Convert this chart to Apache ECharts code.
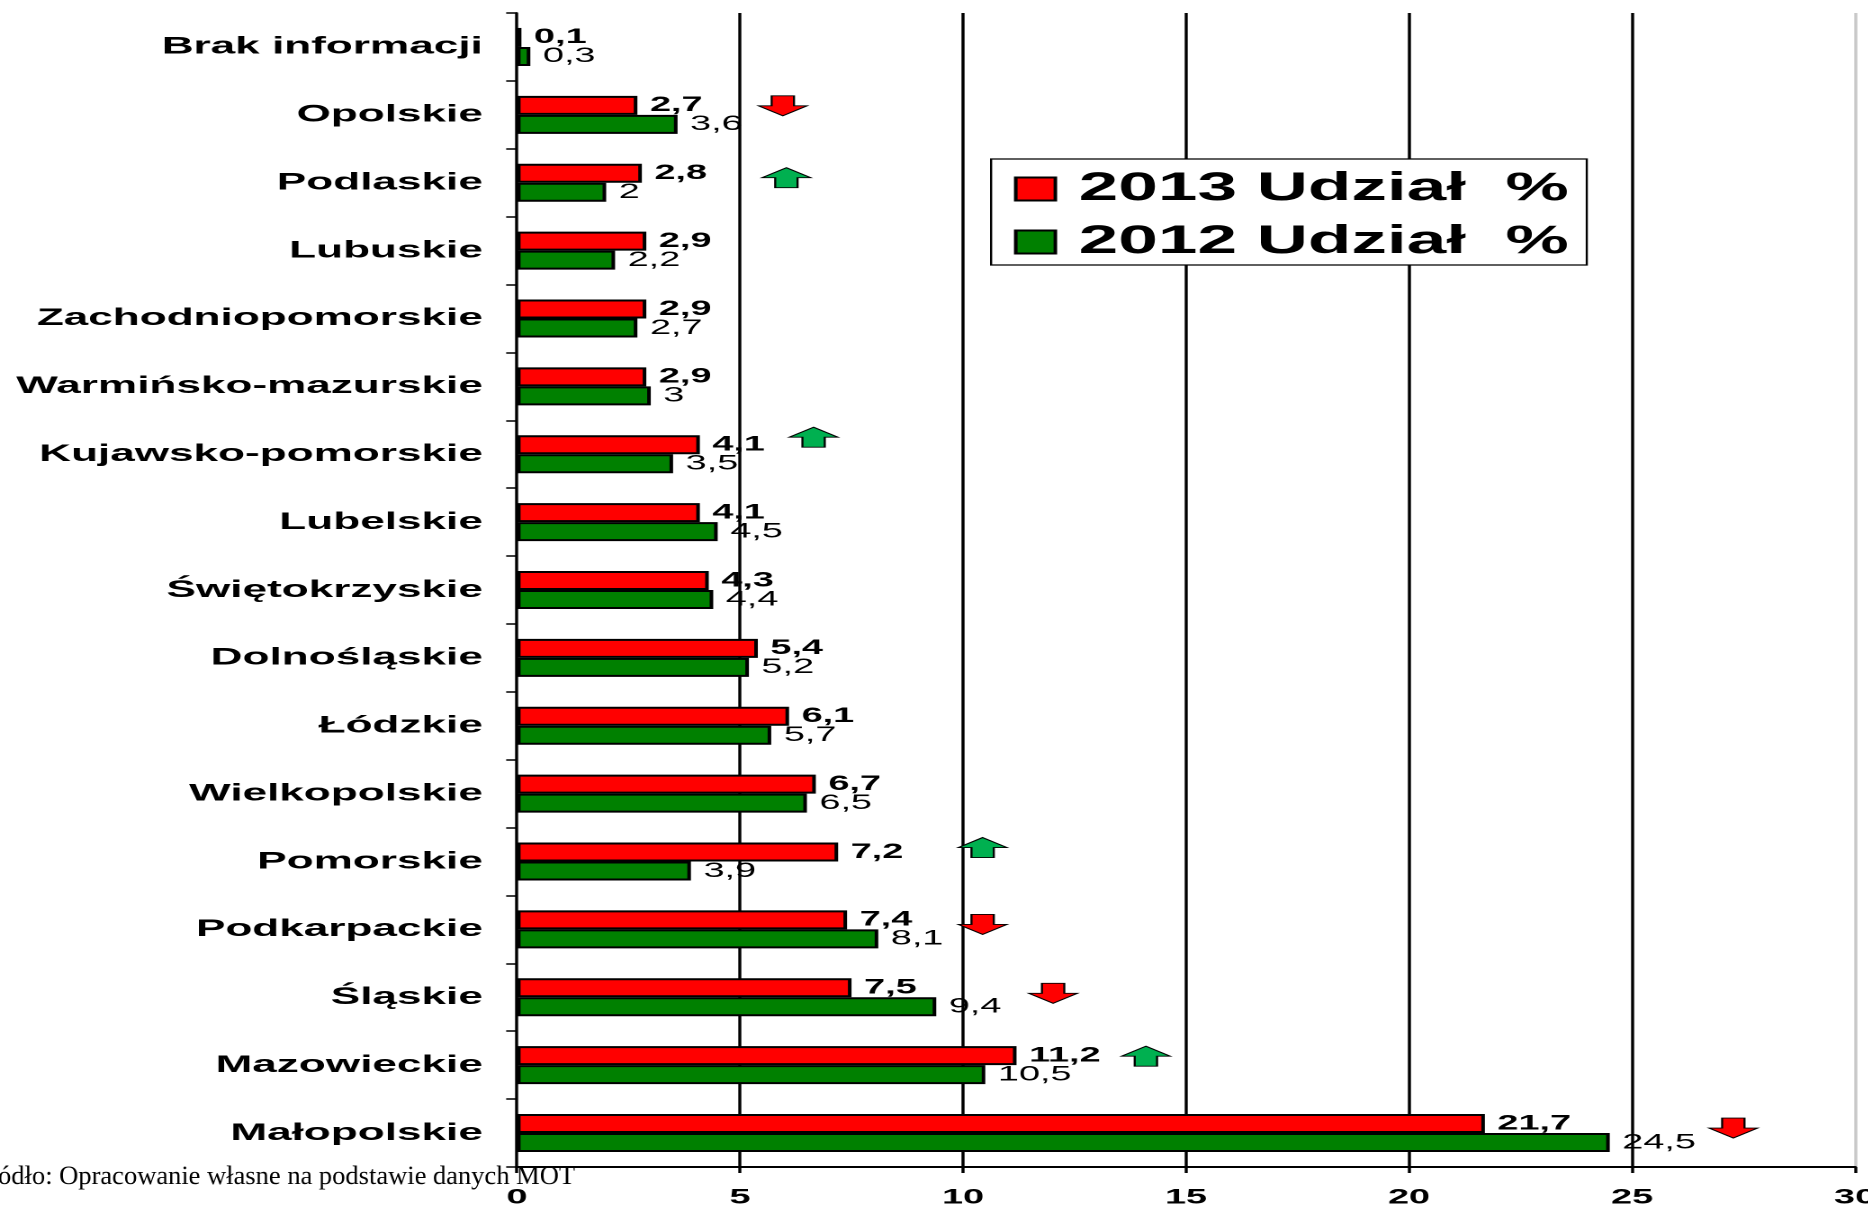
<!DOCTYPE html>
<html>
<head>
<meta charset="utf-8">
<script src="https://cdn.jsdelivr.net/npm/echarts@6/dist/echarts.min.js"></script>
<style>
html,body{margin:0;padding:0;background:#fff;overflow:hidden;width:1868px;height:1210px;}
#chart{width:1038px;height:1210px;transform:scaleX(1.8);transform-origin:0 0;}
</style>
</head>
<body>
<div id="chart"></div>
<script>
// ---- data (categories listed bottom -> top) ----
const categories = ['Małopolskie','Mazowieckie','Śląskie','Podkarpackie','Pomorskie','Wielkopolskie','Łódzkie','Dolnośląskie','Świętokrzyskie','Lubelskie','Kujawsko-pomorskie','Warmińsko-mazurskie','Zachodniopomorskie','Lubuskie','Podlaskie','Opolskie','Brak informacji'];
const share2013 = [21.7,11.2,7.5,7.4,7.2,6.7,6.1,5.4,4.3,4.1,4.1,2.9,2.9,2.9,2.8,2.7,0.1];
const share2012 = [24.5,10.5,9.4,8.1,3.9,6.5,5.7,5.2,4.4,4.5,3.5,3,2.7,2.2,2,3.6,0.3];
const seriesNames = ['2013 Udział  %','2012 Udział  %'];
const xMin = 0, xMax = 30, xStep = 5;
// change arrows (annotations)
const arrowCats = ['Opolskie','Podlaskie','Kujawsko-pomorskie','Pomorskie','Podkarpackie','Śląskie','Mazowieckie','Małopolskie'];
const arrowX    = [5.96, 6.04, 6.65, 10.44, 10.44, 12.02, 14.10, 27.27];
const arrowDir  = ['down','up','up','up','down','down','up','down'];
const footnote = 'Źródło: Opracowanie własne na podstawie danych MOT';

// ---- styling ----
const S = 1.8; // horizontal stretch of the original picture
const arrowDy = [-9,-5,-17,-14,-5,-4,-9,-5];
const UP = 'path://M50,0 L100,50 L73,50 L73,100 L27,100 L27,50 L0,50 Z';
const DOWN = 'path://M27,0 L73,0 L73,50 L100,50 L50,100 L0,50 L27,50 Z';
const FONT = '"Liberation Sans", Arial, sans-serif';
const fmt = p => String(p.value).replace('.', ',');

const chart = echarts.init(document.getElementById('chart'), null, {renderer:'canvas', devicePixelRatio: 2});
chart.setOption({
  animation: false,
  backgroundColor: '#fff',
  textStyle: {fontFamily: FONT},
  grid: {left: 287.2, right: 7.4, top: 13, bottom: 43, containLabel: false, outerBoundsMode: 'none'},
  legend: {
    orient: 'vertical', left: 550.6, top: 159,
    data: seriesNames,
    icon: 'rect', itemWidth: 22, itemHeight: 23, itemGap: 13,
    padding: [10, 10, 3, 12.7],
    borderColor: '#000', borderWidth: 1.2, backgroundColor: '#fff',
    textStyle: {fontSize: 39.5, fontWeight: 'bold', color: '#000', fontFamily: FONT, padding: [0,0,0,8]},
    selectedMode: false
  },
  xAxis: {
    type: 'value', min: xMin, max: xMax, interval: xStep,
    axisLine: {show: true, lineStyle: {color: '#000', width: 2}},
    axisTick: {show: true, length: 6, lineStyle: {color: '#000', width: 1.7}},
    axisLabel: {fontSize: 21, fontWeight: 'bold', color: '#000', margin: 20, fontFamily: FONT},
    splitLine: {show: true, showMinLine: false, lineStyle: {color: ['#000','#000','#000','#000','#000','#c8c8c8'], width: 1.7}}
  },
  yAxis: {
    type: 'category', data: categories,
    axisLine: {show: true, lineStyle: {color: '#000', width: 1.7}},
    axisTick: {show: true, length: 6, lineStyle: {color: '#000', width: 1.5}},
    axisLabel: {fontSize: 24.5, fontWeight: 'bold', color: '#000', margin: 19, fontFamily: FONT},
    splitLine: {show: false}
  },
  series: [
    {
      name: seriesNames[0], type: 'bar', data: share2013,
      barWidth: 19, barGap: '0%',
      itemStyle: {color: '#ff0000', borderColor: '#000', borderWidth: 2},
      label: {show: true, position: 'right', distance: 7, formatter: fmt,
              fontSize: 21, fontWeight: 'bold', color: '#000', fontFamily: FONT}
    },
    {
      name: seriesNames[1], type: 'bar', data: share2012,
      barWidth: 19, barGap: '0%',
      itemStyle: {color: '#008000', borderColor: '#000', borderWidth: 2},
      label: {show: true, position: 'right', distance: 7, formatter: fmt,
              fontSize: 21, fontWeight: 'normal', color: '#000', fontFamily: FONT}
    },
    {
      type: 'scatter', silent: true, z: 5,
      data: arrowCats.map((c, i) => ({
        value: [arrowX[i], c],
        symbol: arrowDir[i] === 'up' ? UP : DOWN,
        symbolSize: [27, 20],
        symbolOffset: [0, arrowDy[i]],
        itemStyle: {color: arrowDir[i] === 'up' ? '#00b050' : '#ff0000', borderColor: '#000', borderWidth: 1, opacity: 1}
      }))
    }
  ],
  graphic: [{
    type: 'text', x: 575 / S, y: 1177, scaleX: 1 / S, z: 100,
    style: {text: footnote, fontSize: 26.5, fontFamily: '"Liberation Serif", "Times New Roman", serif',
            fill: '#000', align: 'right', verticalAlign: 'middle'}
  }]
});
</script>
</body>
</html>
